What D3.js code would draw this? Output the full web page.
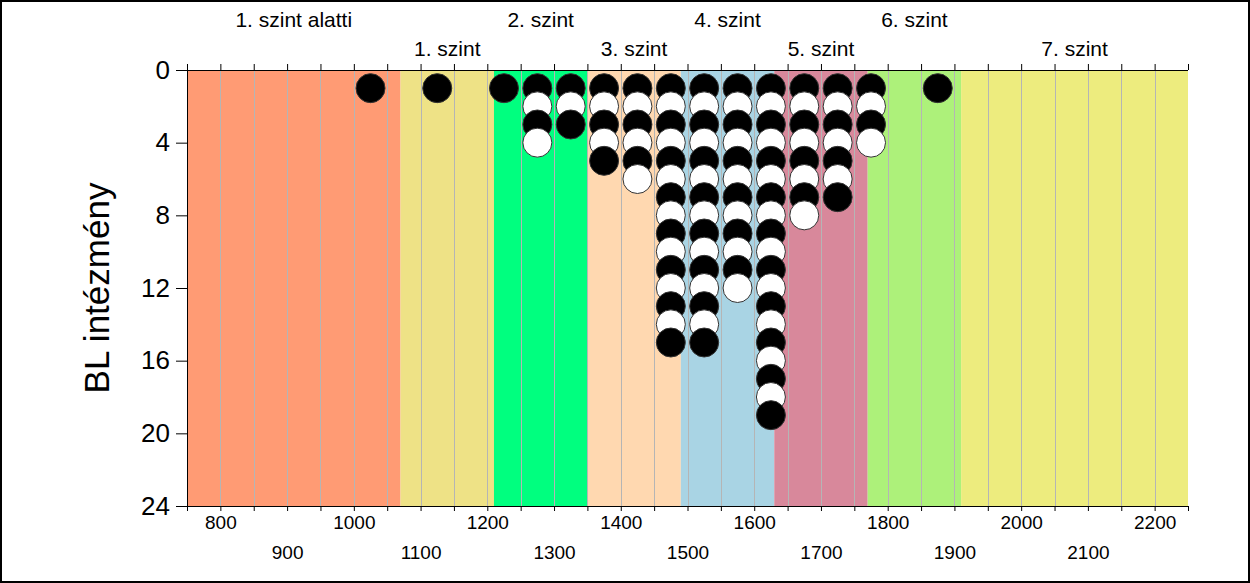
<!DOCTYPE html>
<html>
<head>
<meta charset="utf-8">
<script src="https://cdn.jsdelivr.net/npm/d3@7"></script>
<style>
  html, body { margin: 0; padding: 0; background: #fff; }
  svg { display: block; font-family: "Liberation Sans", Arial, sans-serif; }
</style>
</head>
<body>
<svg id="chart" width="1250" height="583"></svg>
<script>
// ---- data ----
const binCenters = [1025, 1125, 1225, 1275, 1325, 1375, 1425, 1475, 1525, 1575, 1625, 1675, 1725, 1775, 1875];
const counts     = [1,    1,    1,    4,    3,    5,    6,    15,   15,   12,   19,   8,    7,    4,    1];
const bandNames  = ["1. szint alatti", "1. szint", "2. szint", "3. szint", "4. szint", "5. szint", "6. szint", "7. szint"];
const bandStarts = [750, 1070, 1210, 1350, 1490, 1630, 1770, 1910];
const bandEnds   = [1070, 1210, 1350, 1490, 1630, 1770, 1910, 2250];
const bandColors = ["#FF9B74", "#EEE286", "#00FF7F", "#FFD8B0", "#A9D4E4", "#D8889B", "#ADF17A", "#EDEC7E"];
const xTicks = d3.range(750, 2251, 50);
const yTicks = [0, 4, 8, 12, 16, 20, 24];
const yTitle = "BL intézmény";

// ---- layout ----
const W = 1250, H = 583;
const L = 187, R = 1188, T = 70, B = 506;
const svg = d3.select("#chart");

const x = d3.scaleLinear().domain([750, 2250]).range([L, R]);
const y = d3.scaleLinear().domain([0, 24]).range([T, B]);

// outer border
svg.append("rect").attr("x", 1).attr("y", 1).attr("width", W - 2).attr("height", H - 2)
  .attr("fill", "#fff").attr("stroke", "#000").attr("stroke-width", 2);

// bands
const bands = bandNames.map((n, i) => ({ name: n, s: bandStarts[i], e: bandEnds[i], c: bandColors[i], i }));
svg.append("g").selectAll("rect").data(bands).join("rect")
  .attr("x", d => x(d.s)).attr("y", T)
  .attr("width", d => x(d.e) - x(d.s)).attr("height", B - T)
  .attr("fill", d => d.c);

// grid lines
svg.append("g").selectAll("line").data(xTicks.filter(v => v > 750 && v < 2250)).join("line")
  .attr("x1", d => Math.round(x(d)) + 0.5).attr("x2", d => Math.round(x(d)) + 0.5)
  .attr("y1", T).attr("y2", B)
  .attr("stroke", "#B5B5B5").attr("stroke-width", 1);

// band labels (alternating rows)
svg.append("g").selectAll("text").data(bands).join("text")
  .attr("x", d => (x(d.s) + x(d.e)) / 2)
  .attr("y", d => d.i % 2 === 0 ? 27 : 56)
  .attr("text-anchor", "middle")
  .attr("font-size", 21)
  .attr("fill", "#000")
  .text(d => d.name);

// top axis (ticks only)
const topAxis = d3.axisTop(x).tickValues(xTicks).tickSize(6).tickFormat("");
const gTop = svg.append("g").attr("transform", `translate(0,${T})`).call(topAxis);
gTop.select(".domain").attr("stroke", "#000").attr("d", `M${L},0.5H${R}`);
gTop.selectAll(".tick line").attr("stroke", "#000");

// bottom axis
const bottomAxis = d3.axisBottom(x).tickValues(xTicks).tickSize(5)
  .tickFormat(d => d % 100 === 0 ? d : "");
const gBot = svg.append("g").attr("transform", `translate(0,${B})`).call(bottomAxis);
gBot.select(".domain").attr("stroke", "#000").attr("d", `M${L},0.5H${R}`);
gBot.selectAll(".tick line").attr("stroke", "#000");
gBot.selectAll(".tick text")
  .attr("font-family", "Liberation Sans, Arial, sans-serif")
  .attr("font-size", 19).attr("fill", "#000")
  .attr("dy", null)
  .attr("y", d => (d % 200 === 0) ? 23 : 53)
  .attr("dominant-baseline", null);

// left axis
const leftAxis = d3.axisLeft(y).tickValues(yTicks).tickSize(11).tickPadding(6);
const gLeft = svg.append("g").attr("transform", `translate(${L},0)`).call(leftAxis);
gLeft.select(".domain").attr("stroke", "#000").attr("d", `M0.5,${T}V${B}`);
gLeft.selectAll(".tick line").attr("stroke", "#000");
gLeft.selectAll(".tick text")
  .attr("font-family", "Liberation Sans, Arial, sans-serif")
  .attr("font-size", 26).attr("fill", "#000");

// y title
svg.append("text")
  .attr("transform", `translate(109,${(T + B) / 2}) rotate(-90)`)
  .attr("text-anchor", "middle")
  .attr("font-size", 35)
  .attr("fill", "#000")
  .text(yTitle);

// dots: one per institution, stacked in each bin
const dots = [];
binCenters.forEach((c, i) => {
  for (let k = 1; k <= counts[i]; k++) dots.push({ x: c, k });
});
svg.append("g").selectAll("circle").data(dots).join("circle")
  .attr("cx", d => x(d.x)).attr("cy", d => y(d.k))
  .attr("r", 14.5)
  .attr("fill", d => d.k % 2 === 1 ? "#000" : "#fff")
  .attr("stroke", "#333").attr("stroke-width", 1);
</script>
</body>
</html>
